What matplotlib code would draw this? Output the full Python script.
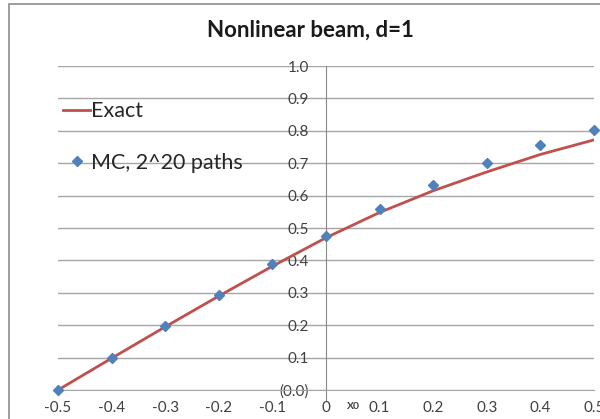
import matplotlib.pyplot as plt
from matplotlib.lines import Line2D
from matplotlib.patches import Rectangle

# starting point x0
x0 = [-0.5, -0.4, -0.3, -0.2, -0.1, 0.0, 0.1, 0.2, 0.3, 0.4, 0.5]
exact = [0.0, 0.098, 0.195, 0.290, 0.382, 0.470, 0.548, 0.615, 0.673, 0.727, 0.772]
mc = [0.0, 0.100, 0.197, 0.293, 0.389, 0.475, 0.558, 0.633, 0.700, 0.756, 0.802]

y_ticks = [0.0, 0.1, 0.2, 0.3, 0.4, 0.5, 0.6, 0.7, 0.8, 0.9, 1.0]
y_labels = ["(0.0)", "0.1", "0.2", "0.3", "0.4", "0.5", "0.6", "0.7", "0.8", "0.9", "1.0"]
x_ticks = [-0.5, -0.4, -0.3, -0.2, -0.1, 0.0, 0.1, 0.2, 0.3, 0.4, 0.5]
x_labels = ["-0.5", "-0.4", "-0.3", "-0.2", "-0.1", "0", "0.1", "0.2", "0.3", "0.4", "0.5"]

plt.rcParams["font.family"] = ["Lato", "DejaVu Sans"]

fig = plt.figure(figsize=(6, 4.19), dpi=100)
ax = fig.add_axes([58 / 600, 29 / 419, 536 / 600, 324 / 419])

# chart border
fig.patches.append(Rectangle((9 / 600, -0.1), 1.2, 1.1 - 4 / 419,
                             transform=fig.transFigure, fill=False,
                             edgecolor="#8c8c8c", linewidth=1.2))

ax.plot(x0, exact, color="#c0504d", linewidth=2, label="Exact", zorder=3)
ax.plot(x0, mc, linestyle="none", marker="D", markersize=5.5,
        color="#4f81bd", label="MC, 2^20 paths", zorder=4, clip_on=False)

ax.set_xlim(-0.5, 0.5)
ax.set_ylim(0, 1.0)

ax.set_yticks(y_ticks)
ax.set_yticklabels(y_labels)
ax.set_xticks(x_ticks)
ax.set_xticklabels(x_labels)

ax.grid(axis="y", color="#a6a6a6", linewidth=1)
ax.set_axisbelow(True)

for s in ["top", "right"]:
    ax.spines[s].set_visible(False)
ax.spines["left"].set_position(("data", 0))
ax.spines["left"].set_color("#888888")
ax.spines["bottom"].set_color("#a6a6a6")
ax.spines["left"].set_bounds(-0.03, 1.0)

ax.tick_params(axis="y", length=0, pad=12, labelsize=11, labelcolor="#404040")
ax.tick_params(axis="x", length=0, pad=8, labelsize=11, labelcolor="#404040")

ax.text(0.052, -0.052, "X0", fontsize=7.5, fontweight="bold", color="#404040",
        ha="center", va="center")

fig.text(310 / 600, 1 - 30 / 419, "Nonlinear beam, d=1", fontsize=16,
         fontweight="bold", ha="center", va="center", color="#1a1a1a")

handles = [Line2D([0], [0], color="#c0504d", linewidth=2),
           Line2D([0], [0], linestyle="none", marker="D", markersize=5,
                  color="#4f81bd")]
fig.legend(handles, ["Exact", "MC, 2^20 paths"], loc="upper left",
           bbox_to_anchor=(44 / 600, 1 - 82 / 419), frameon=False,
           fontsize=15.5, handlelength=1.25, handletextpad=0.05,
           labelspacing=1.45, labelcolor="#262626")

plt.savefig("out.png", dpi=100)
